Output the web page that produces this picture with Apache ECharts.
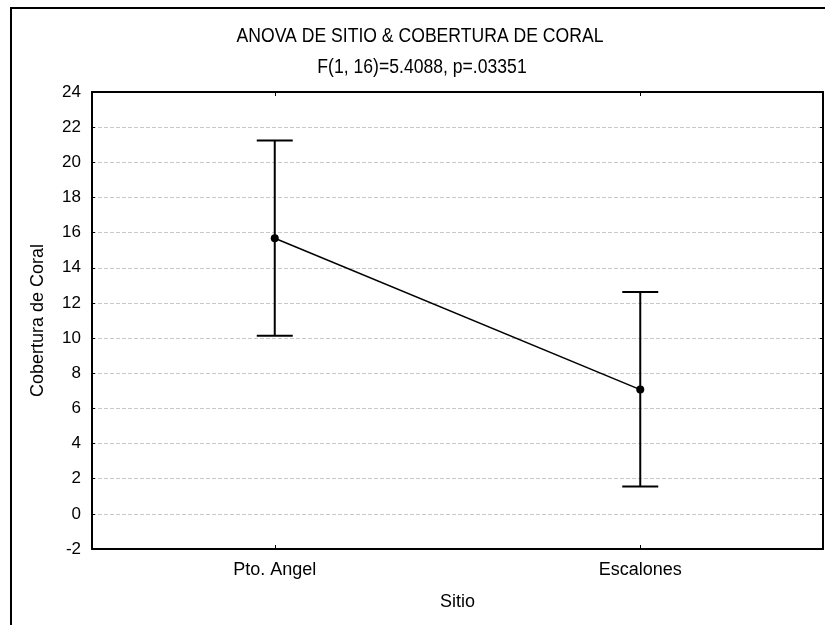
<!DOCTYPE html>
<html>
<head>
<meta charset="utf-8">
<script src="https://cdn.jsdelivr.net/npm/echarts@6/dist/echarts.min.js"></script>
<style>
html,body{margin:0;padding:0;background:#fff;}
#chart{width:825px;height:625px;}
</style>
</head>
<body>
<div id="chart"></div>
<script>
const categories = ['Pto. Angel', 'Escalones'];
const means = [15.68, 7.07];
const upper = [21.24, 12.62];
const lower = [10.13, 1.55];
const yTicks = [-2, 0, 2, 4, 6, 8, 10, 12, 14, 16, 18, 20, 22, 24];
const titleText = 'ANOVA DE SITIO & COBERTURA DE CORAL';
const subtitleText = 'F(1, 16)=5.4088, p=.03351';

const font = "'Liberation Sans', Arial, sans-serif";

const chart = echarts.init(document.getElementById('chart'));
const errData = categories.map((c, i) => [i, lower[i], upper[i]]);

chart.setOption({
  animation: false,
  backgroundColor: '#fff',
  graphic: [
    { type: 'rect', shape: { x: 11, y: 8, width: 840, height: 650 },
      style: { fill: 'none', stroke: '#000', lineWidth: 2 }, z: 100 },
    { type: 'text', x: 420, y: 36, scaleY: 1.18,
      style: { text: titleText, font: '17.6px ' + font, fill: '#000', textAlign: 'center', textVerticalAlign: 'middle' } },
    { type: 'text', x: 422, y: 67, scaleY: 1.18,
      style: { text: subtitleText, font: '17.6px ' + font, fill: '#000', textAlign: 'center', textVerticalAlign: 'middle' } }
  ],
  grid: { left: 92, top: 92, right: 2, bottom: 76, containLabel: false, show: false },
  xAxis: [{
    type: 'category', data: categories, boundaryGap: true,
    axisLine: { show: true, onZero: false, lineStyle: { color: '#000', width: 2 } },
    axisTick: { show: true, alignWithLabel: true, inside: true, length: 4, lineStyle: { color: '#000' } },
    axisLabel: { fontFamily: font, fontSize: 18, color: '#000', margin: 12 },
    name: 'Sitio', nameLocation: 'middle', nameGap: 44,
    nameTextStyle: { fontFamily: font, fontSize: 18, color: '#000' },
    splitLine: { show: false }
  }, {
    type: 'category', data: categories, boundaryGap: true, position: 'top',
    axisLine: { show: true, onZero: false, lineStyle: { color: '#000', width: 2 } },
    axisTick: { show: true, alignWithLabel: true, inside: true, length: 4, lineStyle: { color: '#000' } },
    axisLabel: { show: false }
  }],
  yAxis: [{
    type: 'value', min: -2, max: 24, interval: 2,
    axisLine: { show: true, onZero: false, lineStyle: { color: '#000', width: 2 } },
    axisTick: { show: true, inside: true, length: 3, lineStyle: { color: '#000' } },
    axisLabel: { fontFamily: font, fontSize: 17, color: '#000', margin: 11,
                 formatter: v => yTicks.includes(v) ? String(v) : '' },
    splitLine: { show: true, showMinLine: false, showMaxLine: false,
                 lineStyle: { color: '#c8c8c8', type: 'dashed', width: 1 } },
    name: 'Cobertura de Coral', nameLocation: 'middle', nameGap: 45,
    nameTextStyle: { fontFamily: font, fontSize: 18, color: '#000' }
  }, {
    type: 'value', min: -2, max: 24, interval: 2, position: 'right',
    axisLine: { show: true, onZero: false, lineStyle: { color: '#000', width: 2 } },
    axisTick: { show: true, inside: true, length: 3, lineStyle: { color: '#000' } },
    axisLabel: { show: false }, splitLine: { show: false }
  }],
  series: [{
    type: 'custom',
    data: errData,
    z: 3,
    renderItem: function (params, api) {
      const x = api.value(0);
      const lo = api.coord([x, api.value(1)]);
      const hi = api.coord([x, api.value(2)]);
      const hw = 18;
      const st = { stroke: '#000', lineWidth: 2, fill: 'none' };
      return { type: 'group', children: [
        { type: 'line', shape: { x1: hi[0], y1: hi[1], x2: lo[0], y2: lo[1] }, style: st },
        { type: 'line', shape: { x1: hi[0] - hw, y1: hi[1], x2: hi[0] + hw, y2: hi[1] }, style: st },
        { type: 'line', shape: { x1: lo[0] - hw, y1: lo[1], x2: lo[0] + hw, y2: lo[1] }, style: st }
      ]};
    }
  }, {
    type: 'line', data: means, z: 4,
    symbol: 'circle', symbolSize: 8,
    lineStyle: { color: '#000', width: 1.5 },
    itemStyle: { color: '#000' }
  }]
});
</script>
</body>
</html>
